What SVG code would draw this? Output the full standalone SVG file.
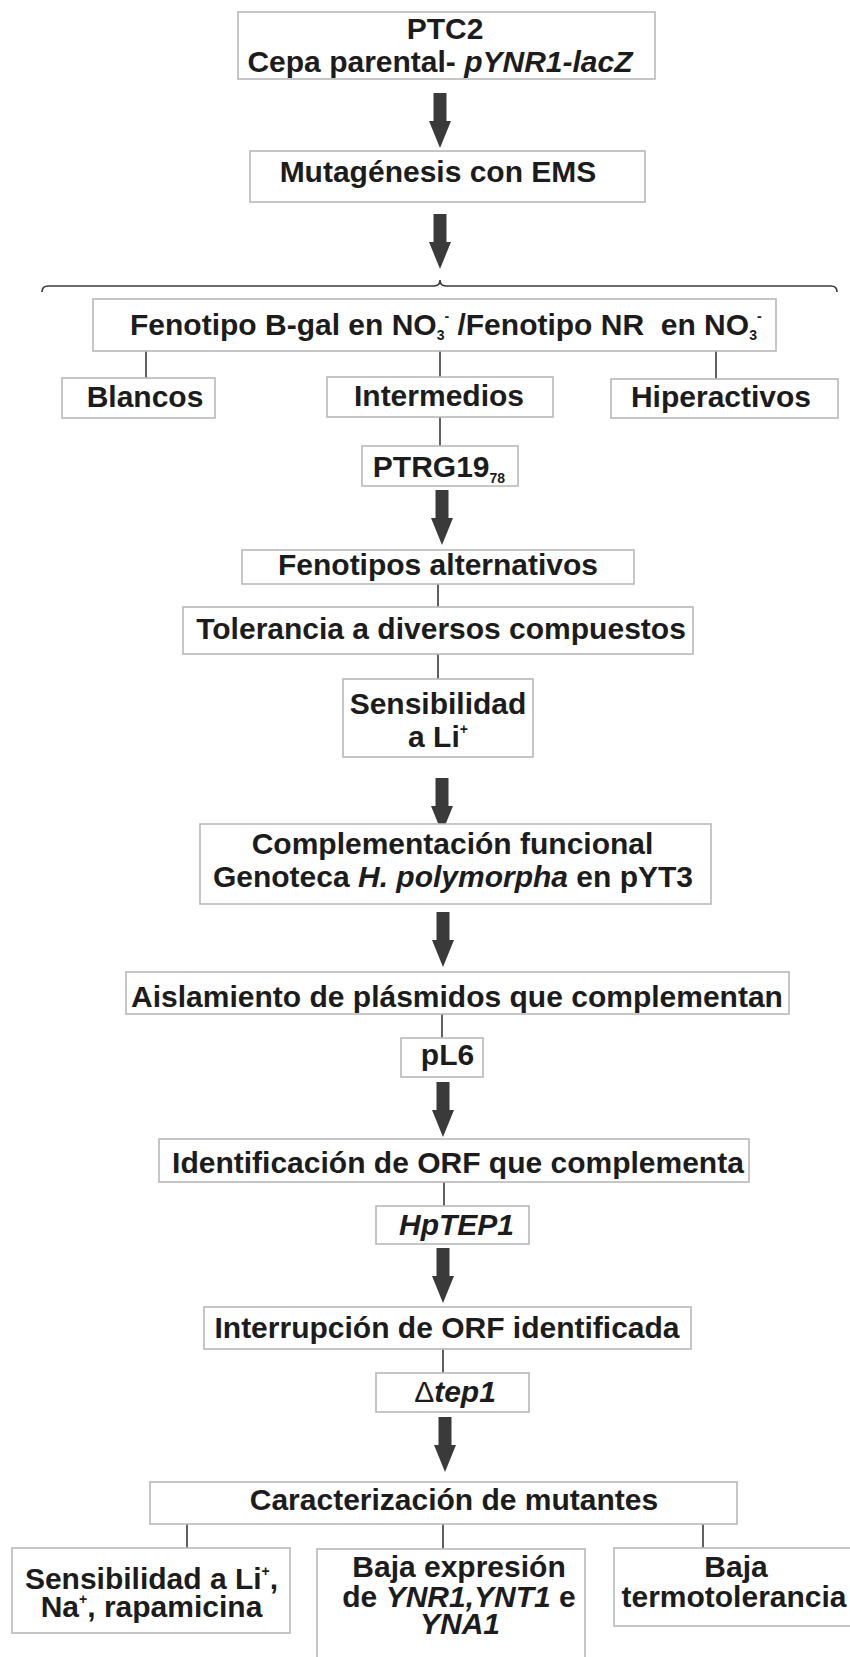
<svg xmlns="http://www.w3.org/2000/svg" xmlns:xlink="http://www.w3.org/1999/xlink" width="850" height="1657" viewBox="0 0 850 1657">
<style>
.box{fill:#fff;stroke:#b8b8b8;stroke-width:1.6}
.ln{stroke:#3a3a3a;stroke-width:1.6;fill:none}
.t{font-family:"Liberation Sans",Arial,sans-serif;font-weight:700;font-size:30px;fill:#1c1c1c;text-anchor:middle}
.s{text-anchor:start}
.i{font-style:italic}
.sm{font-size:14px}
.n{font-weight:400}
</style>
<defs>
<path id="arr" d="M-6.5,0 H6.5 V28 H11 L0,55 L-11,28 H-6.5 Z" fill="#3a3a3a"/>
</defs>
<rect width="850" height="1657" fill="#fff"/>

<g id="connectors">
<path class="ln" d="M42,292 Q42,286 48,286 L434,286 Q440,286 440,280 Q440,286 446,286 L831,286 Q837,286 837,292"/>
<line class="ln" x1="146" y1="351" x2="146" y2="378"/>
<line class="ln" x1="440" y1="351" x2="440" y2="377"/>
<line class="ln" x1="716" y1="351" x2="716" y2="379"/>
<line class="ln" x1="440" y1="417" x2="440" y2="446"/>
<line class="ln" x1="438" y1="584" x2="438" y2="607"/>
<line class="ln" x1="438" y1="654" x2="438" y2="679"/>
<line class="ln" x1="442" y1="1014" x2="442" y2="1038"/>
<line class="ln" x1="444" y1="1182" x2="444" y2="1206"/>
<line class="ln" x1="443" y1="1349" x2="443" y2="1373"/>
<line class="ln" x1="187" y1="1524" x2="187" y2="1548"/>
<line class="ln" x1="443" y1="1524" x2="443" y2="1549"/>
<line class="ln" x1="703" y1="1524" x2="703" y2="1548"/>
<use href="#arr" x="440" y="93"/>
<use href="#arr" x="440" y="214"/>
<use href="#arr" x="442" y="490"/>
<use href="#arr" x="442" y="778"/>
<use href="#arr" x="443" y="912"/>
<use href="#arr" x="443" y="1082"/>
<use href="#arr" x="443" y="1248"/>
<use href="#arr" x="445" y="1417"/>
</g>

<g id="n-ptc2">
<rect class="box" x="238" y="12" width="417" height="67"/>
<text class="t" y="38.5"><tspan x="445">PTC2</tspan><tspan x="440" dy="33">Cepa parental- </tspan><tspan class="i">pYNR1-lacZ</tspan></text>
</g>
<g id="n-mutag">
<rect class="box" x="250" y="151" width="395" height="51"/>
<text class="t" x="438" y="182">Mutagénesis con EMS</text>
</g>
<g id="n-fenotipo">
<rect class="box" x="93" y="299" width="683" height="52"/>
<text class="t s" x="130" y="335" xml:space="preserve">Fenotipo B-gal en NO<tspan class="sm" dy="5">3</tspan><tspan class="sm" dy="-19">-</tspan><tspan dy="14"> /Fenotipo NR  en NO</tspan><tspan class="sm" dy="5">3</tspan><tspan class="sm" dy="-19">-</tspan></text>
</g>
<g id="n-blancos">
<rect class="box" x="62" y="378" width="153" height="40"/>
<text class="t" x="145" y="406.5">Blancos</text>
</g>
<g id="n-intermedios">
<rect class="box" x="327" y="377" width="226" height="40"/>
<text class="t" x="439" y="406">Intermedios</text>
</g>
<g id="n-hiperactivos">
<rect class="box" x="611" y="379" width="227" height="39"/>
<text class="t" x="721" y="406.5">Hiperactivos</text>
</g>
<g id="n-ptrg19">
<rect class="box" x="362" y="446" width="156" height="40"/>
<text class="t" x="439" y="476.5">PTRG19<tspan class="sm" dy="6">78</tspan></text>
</g>
<g id="n-fenalt">
<rect class="box" x="242" y="550" width="392" height="34"/>
<text class="t" x="438" y="575">Fenotipos alternativos</text>
</g>
<g id="n-tolerancia">
<rect class="box" x="183" y="607" width="510" height="47"/>
<text class="t" x="441" y="639">Tolerancia a diversos compuestos</text>
</g>
<g id="n-sensli">
<rect class="box" x="343" y="679" width="190" height="78"/>
<text class="t" y="714"><tspan x="438">Sensibilidad</tspan><tspan x="438" dy="32.5">a Li</tspan><tspan class="sm" dy="-13">+</tspan></text>
</g>
<g id="n-complementacion">
<rect class="box" x="200" y="824" width="511" height="80"/>
<text class="t" y="854"><tspan x="452.5">Complementación funcional</tspan><tspan x="453" dy="32.5">Genoteca </tspan><tspan class="i">H. polymorpha</tspan><tspan> en pYT3</tspan></text>
</g>
<g id="n-aislamiento">
<rect class="box" x="126" y="972" width="663" height="42"/>
<text class="t" x="457" y="1006.5">Aislamiento de plásmidos que complementan</text>
</g>
<g id="n-pl6">
<rect class="box" x="401" y="1038" width="82" height="39"/>
<text class="t" x="447.5" y="1065">pL6</text>
</g>
<g id="n-identificacion">
<rect class="box" x="159" y="1139" width="590" height="43"/>
<text class="t" x="458" y="1173">Identificación de ORF que complementa</text>
</g>
<g id="n-hptep1">
<rect class="box" x="376" y="1206" width="153" height="38"/>
<text class="t i" x="456.5" y="1235">HpTEP1</text>
</g>
<g id="n-interrupcion">
<rect class="box" x="204" y="1307" width="487" height="42"/>
<text class="t" x="447" y="1338">Interrupción de ORF identificada</text>
</g>
<g id="n-dtep1">
<rect class="box" x="376" y="1373" width="153" height="39"/>
<text class="t" x="455" y="1401.5"><tspan class="n">Δ</tspan><tspan class="i">tep1</tspan></text>
</g>
<g id="n-caracterizacion">
<rect class="box" x="150" y="1482" width="587" height="42"/>
<text class="t" x="454" y="1510">Caracterización de mutantes</text>
</g>
<g id="n-sensrapa">
<rect class="box" x="12" y="1548" width="278" height="85"/>
<text class="t" y="1589"><tspan x="151.5">Sensibilidad a Li<tspan class="sm" dy="-13">+</tspan><tspan dy="13">,</tspan></tspan><tspan x="151.5" dy="27.5">Na<tspan class="sm" dy="-13">+</tspan><tspan dy="13">, rapamicina</tspan></tspan></text>
</g>
<g id="n-bajaexp">
<rect class="box" x="317" y="1549" width="268" height="115"/>
<text class="t" y="1576.5"><tspan x="459">Baja expresión</tspan><tspan x="459" dy="30">de <tspan class="i">YNR1,YNT1</tspan> e</tspan><tspan class="i" x="460" dy="27.5">YNA1</tspan></text>
</g>
<g id="n-bajatermo">
<rect class="box" x="614" y="1548" width="240" height="78"/>
<text class="t" y="1576.5"><tspan x="736">Baja</tspan><tspan x="734" dy="30">termotolerancia</tspan></text>
</g>
</svg>
